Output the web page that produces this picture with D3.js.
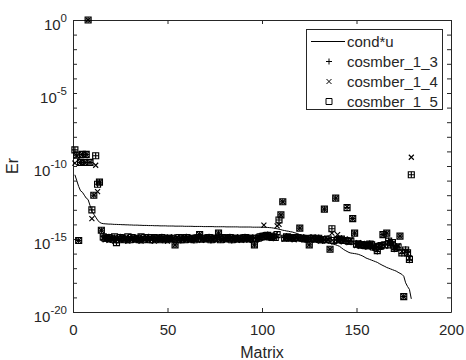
<!DOCTYPE html>
<html>
<head>
<meta charset="utf-8">
<script src="https://cdn.jsdelivr.net/npm/d3@7"></script>
<style>
body { margin: 0; background: #fff; }
svg { font-family: "Liberation Sans", Arial, sans-serif; }
</style>
</head>
<body>
<div id="chart"></div>
<script>
// values are log10 exponents, matrix index 1..179
var condU = [
  -10.6, -11.0, -11.4, -11.7, -11.8, -12.0, -12.2, -12.3, -12.7, -13.1, -13.3, -13.5, -13.7, -13.85, -13.92,
  -13.95, -13.96, -13.97, -13.98, -13.98, -13.99, -14.0, -14.0, -14.01, -14.01, -14.02, -14.02, -14.03, -14.03, -14.04,
  -14.04, -14.05, -14.05, -14.05, -14.06, -14.06, -14.07, -14.07, -14.07, -14.08, -14.08, -14.08, -14.09, -14.09, -14.09,
  -14.1, -14.1, -14.1, -14.1, -14.11, -14.11, -14.11, -14.11, -14.12, -14.12, -14.12, -14.12, -14.12, -14.13, -14.13,
  -14.13, -14.13, -14.13, -14.14, -14.14, -14.14, -14.14, -14.14, -14.15, -14.15, -14.15, -14.15, -14.15, -14.15, -14.16,
  -14.16, -14.16, -14.16, -14.16, -14.16, -14.17, -14.17, -14.17, -14.17, -14.17, -14.17, -14.17, -14.18, -14.18, -14.18,
  -14.18, -14.18, -14.18, -14.18, -14.19, -14.19, -14.19, -14.19, -14.19, -14.2, -14.2, -14.2, -14.21, -14.22, -14.23,
  -14.25, -14.28, -14.3, -14.33, -14.36, -14.4, -14.42, -14.45, -14.47, -14.5, -14.52, -14.56, -14.6, -14.65, -14.7,
  -14.74, -14.78, -14.82, -14.86, -14.9, -14.94, -14.98, -15.02, -15.06, -15.1, -15.14, -15.18, -15.21, -15.24, -15.27,
  -15.3, -15.33, -15.37, -15.4, -15.45, -15.5, -15.6, -15.7, -15.78, -15.85, -15.92, -15.96, -15.98, -16.0, -16.02,
  -16.05, -16.1, -16.15, -16.22, -16.3, -16.35, -16.4, -16.45, -16.5, -16.55, -16.6, -16.68, -16.75, -16.82, -16.88,
  -16.95, -17.0, -17.05, -17.1, -17.15, -17.2, -17.28, -17.35, -17.42, -17.55, -18.0, -18.25, -18.45, -19.1
];

var cosmber_1_3 = [
  -8.9, -9.25, -15.1, -9.75, -9.2, -9.75, -9.2, 0, -9.75, -13.0, -12.0, -9.3, -11.25, -11.1, -14.4,
  -14.8, -14.9, -15.0, -14.85, -15.05, -14.95, -14.9, -15.25, -15.0, -14.85, -15.0, -14.95, -15.1, -14.9, -15.0,
  -14.85, -15.05, -14.95, -15.0, -15.1, -14.9, -15.0, -14.95, -15.05, -14.85, -15.0, -15.1, -14.95, -14.9, -15.05,
  -15.0, -14.85, -15.0, -15.1, -14.95, -15.0, -14.9, -15.05, -15.4, -15.0, -14.95, -15.1, -14.9, -15.0, -14.85,
  -15.05, -14.95, -15.0, -15.1, -14.9, -15.0, -14.7, -14.95, -15.05, -14.9, -15.0, -14.85, -15.1, -14.95, -15.0,
  -14.9, -14.6, -15.0, -14.95, -15.05, -14.9, -15.0, -14.85, -15.1, -14.95, -15.0, -14.9, -15.05, -14.95, -15.0,
  -14.85, -15.05, -14.9, -15.0, -14.95, -15.4, -14.9, -15.0, -14.8, -14.9, -14.75, -14.85, -14.7, -14.9, -14.8,
  -14.95, -14.85, -14.7, -13.7, -13.35, -12.45, -14.9, -14.8, -14.95, -14.85, -15.0, -14.9, -14.95, -14.85, -14.25,
  -15.0, -14.9, -14.95, -15.05, -15.4, -14.9, -15.0, -14.95, -15.05, -14.9, -15.0, -15.1, -12.95, -15.0, -14.95,
  -15.7, -14.3, -15.05, -12.2, -15.0, -15.1, -14.95, -15.05, -15.15, -12.85, -15.1, -15.2, -13.6, -14.6, -15.3,
  -15.4, -15.35, -15.45, -15.35, -15.5, -15.4, -15.3, -15.45, -15.6, -15.5, -15.85, -15.55, -15.4, -14.7, -15.35,
  -14.6, -15.1, -15.45, -15.2, -15.7, -15.5, -15.6, -14.8, -16.0, -18.95, -15.7, -15.9, -16.45, -10.6
];

var cosmber_1_4 = [
  -9.8, -9.3, -15.1, -9.75, -9.2, -9.75, -9.2, 0, -9.75, -13.6, -12.0, -9.95, -11.75, -11.1, -14.4,
  -14.95, -15.05, -14.85, -15.1, -14.9, -15.05, -15.15, -15.0, -14.9, -15.1, -14.85, -15.05, -14.95, -15.15, -14.9,
  -15.05, -14.9, -15.1, -14.85, -15.0, -15.15, -14.9, -15.05, -14.85, -15.1, -14.9, -14.95, -15.15, -15.0, -14.85,
  -15.1, -15.0, -14.9, -14.95, -15.15, -14.85, -15.05, -14.95, -15.4, -14.85, -15.1, -14.95, -15.05, -14.85, -15.1,
  -14.9, -15.1, -14.85, -14.95, -15.1, -14.85, -14.7, -15.1, -14.9, -15.05, -14.85, -15.05, -14.9, -15.1, -14.85,
  -15.05, -14.6, -14.9, -15.1, -14.9, -15.05, -14.85, -15.05, -14.9, -15.1, -14.85, -15.05, -14.9, -15.1, -14.85,
  -15.0, -14.9, -15.05, -14.85, -15.1, -15.4, -15.05, -14.85, -14.95, -14.75, -14.05, -14.7, -14.85, -14.75, -14.95,
  -14.8, -14.7, -14.1, -14.0, -13.35, -12.45, -15.0, -14.95, -14.8, -15.0, -14.85, -15.05, -14.85, -15.0, -14.25,
  -14.85, -15.05, -14.9, -14.9, -15.4, -15.05, -14.85, -15.1, -14.9, -15.05, -15.15, -14.95, -12.95, -15.15, -15.05,
  -15.7, -14.6, -15.2, -12.2, -14.7, -14.95, -15.1, -15.2, -15.0, -12.8, -15.25, -15.05, -13.6, -14.6, -15.45,
  -15.25, -15.5, -15.3, -15.5, -15.35, -15.55, -15.45, -15.3, -15.5, -15.65, -15.75, -15.45, -15.55, -14.7, -15.5,
  -14.6, -15.25, -15.3, -15.35, -15.6, -15.65, -15.45, -14.8, -15.85, -18.95, -15.85, -16.0, -16.3, -9.4
];

var cosmber_1_5 = [
  -8.9, -9.25, -15.1, -9.75, -9.2, -9.75, -9.2, 0, -9.75, -13.0, -12.0, -9.3, -11.25, -11.1, -14.4,
  -14.85, -14.95, -14.95, -14.9, -15.0, -15.0, -14.85, -15.25, -15.05, -14.9, -14.95, -15.0, -15.05, -14.85, -15.05,
  -14.9, -15.0, -15.0, -14.95, -15.05, -14.85, -15.05, -14.9, -15.0, -14.9, -15.05, -15.05, -14.9, -14.95, -15.0,
  -15.05, -14.9, -14.95, -15.05, -15.0, -14.95, -14.95, -15.0, -15.4, -15.05, -14.9, -15.05, -14.95, -15.05, -14.9,
  -15.0, -15.0, -14.95, -15.05, -14.95, -14.95, -14.7, -15.0, -15.0, -14.95, -14.95, -14.9, -15.05, -15.0, -14.95,
  -14.95, -14.6, -15.05, -14.9, -15.0, -14.95, -14.95, -14.9, -15.05, -15.0, -14.95, -14.95, -15.0, -15.0, -14.95,
  -14.9, -15.0, -14.95, -14.95, -15.0, -15.4, -14.95, -14.95, -14.85, -14.85, -14.8, -14.8, -14.75, -14.85, -14.85,
  -14.9, -14.9, -14.7, -13.7, -13.35, -12.45, -14.95, -14.85, -14.9, -14.9, -14.95, -14.95, -14.9, -14.9, -14.25,
  -14.95, -14.95, -15.0, -15.0, -15.4, -14.95, -14.95, -15.0, -15.0, -14.95, -15.05, -15.05, -12.95, -15.05, -15.0,
  -15.7, -14.3, -15.1, -12.2, -15.05, -15.05, -15.0, -15.1, -15.1, -12.85, -15.15, -15.15, -13.6, -14.6, -15.35,
  -15.35, -15.4, -15.4, -15.4, -15.45, -15.45, -15.35, -15.4, -15.55, -15.55, -15.8, -15.5, -15.45, -14.7, -15.4,
  -14.6, -15.15, -15.4, -15.25, -15.65, -15.55, -15.55, -14.8, -15.95, -18.95, -15.75, -15.95, -16.4, -10.6
];

var seriesNames = ["cond*u", "cosmber_1_3", "cosmber_1_4", "cosmber_1_5"];
var xTicks = [0, 50, 100, 150, 200];
var yLabelExps = [0, -5, -10, -15, -20];
var yTickExps = [0, -1, -2, -3, -4, -5, -6, -7, -8, -9, -10, -11, -12, -13, -14, -15, -16, -17, -18, -19, -20];

var w = 466, h = 360;
var plotL = 73, plotR = 451, plotT = 20, plotB = 312;
var ink = "#262626";

var svg = d3.select("#chart").append("svg")
    .attr("width", w)
    .attr("height", h);

var x = d3.scaleLinear().domain([0, 200]).range([plotL, plotR]);
var y = d3.scaleLog().domain([1e-20, 1]).range([plotB, plotT]);

function toPoints(arr) {
  return arr.map(function(e, i) { return {i: i + 1, v: Math.pow(10, e)}; });
}

// white plot area
svg.append("rect").attr("x", plotL).attr("y", plotT)
    .attr("width", plotR - plotL).attr("height", plotB - plotT).attr("fill", "#fff");

// axes (ticks point inward, box on)
var yVals = yTickExps.map(function(e) { return Math.pow(10, e); });

function styleAxis(g) {
  g.attr("font-family", null).attr("font-size", 15);
  g.selectAll("path, line").attr("stroke", ink);
  g.selectAll("text").attr("fill", ink);
}

svg.append("g").attr("transform", "translate(0," + plotB + ")")
    .call(d3.axisBottom(x).tickValues(xTicks).tickSizeInner(-4).tickSizeOuter(0).tickPadding(12))
    .call(styleAxis);
svg.append("g").attr("transform", "translate(0," + plotT + ")")
    .call(d3.axisTop(x).tickValues(xTicks).tickFormat("").tickSizeInner(-4).tickSizeOuter(0))
    .call(styleAxis);
svg.append("g").attr("transform", "translate(" + plotL + ",0)")
    .call(d3.axisLeft(y).tickValues(yVals).tickFormat("").tickSizeInner(-4).tickSizeOuter(0))
    .call(styleAxis);
svg.append("g").attr("transform", "translate(" + plotR + ",0)")
    .call(d3.axisRight(y).tickValues(yVals).tickFormat("").tickSizeInner(-4).tickSizeOuter(0))
    .call(styleAxis);

// y tick labels as 10^n
var yl = svg.append("g").attr("fill", ink).attr("text-anchor", "end");
yLabelExps.forEach(function(e) {
  var t = yl.append("text")
      .attr("x", plotL - 6)
      .attr("y", y(Math.pow(10, e)) + 9.5)
      .attr("font-size", 15);
  t.append("tspan").text("10");
  t.append("tspan").attr("dy", -8).attr("font-size", 11.5).text(String(e));
});

// axis labels
svg.append("text")
    .attr("x", (plotL + plotR) / 2).attr("y", 358)
    .attr("text-anchor", "middle").attr("font-size", 16).attr("fill", ink)
    .text("Matrix");
svg.append("text")
    .attr("transform", "translate(18," + ((plotT + plotB) / 2) + ") rotate(-90)")
    .attr("text-anchor", "middle").attr("font-size", 16).attr("fill", ink)
    .text("Er");

// data
var line = d3.line()
    .x(function(d) { return x(d.i); })
    .y(function(d) { return y(d.v); });

svg.append("path")
    .datum(toPoints(condU))
    .attr("fill", "none")
    .attr("stroke", "#000")
    .attr("stroke-width", 1)
    .attr("d", line);

var markPlus = "M-3,0H3M0,-3V3";
var markX = "M-2.5,-2.5L2.5,2.5M-2.5,2.5L2.5,-2.5";
var markSquare = "M-3,-3H3V3H-3Z";
var marks = [markPlus, markX, markSquare];
var series = [cosmber_1_3, cosmber_1_4, cosmber_1_5];

series.forEach(function(s, k) {
  svg.append("g")
      .attr("fill", "none").attr("stroke", "#000").attr("stroke-width", 1.15)
    .selectAll("path")
    .data(toPoints(s))
    .enter()
    .append("path")
      .attr("transform", function(d) { return "translate(" + x(d.i) + "," + y(d.v) + ")"; })
      .attr("d", marks[k]);
});

// legend
var lg = svg.append("g").attr("transform", "translate(306,29)");
lg.append("rect").attr("x", 0.5).attr("y", 0.5).attr("width", 136).attr("height", 80)
    .attr("fill", "#fff").attr("stroke", ink);
seriesNames.forEach(function(name, k) {
  var cy = 12.5 + k * 20;
  if (k == 0) {
    lg.append("line").attr("x1", 5).attr("x2", 39).attr("y1", cy).attr("y2", cy)
        .attr("stroke", "#000").attr("stroke-width", 1);
  } else {
    lg.append("path").attr("transform", "translate(23," + cy + ")")
        .attr("d", marks[k - 1]).attr("fill", "none").attr("stroke", "#000");
  }
  lg.append("text").attr("x", 41).attr("y", cy).attr("dy", "0.36em")
      .attr("font-size", 15).attr("fill", ink).text(name);
});
</script>
</body>
</html>
